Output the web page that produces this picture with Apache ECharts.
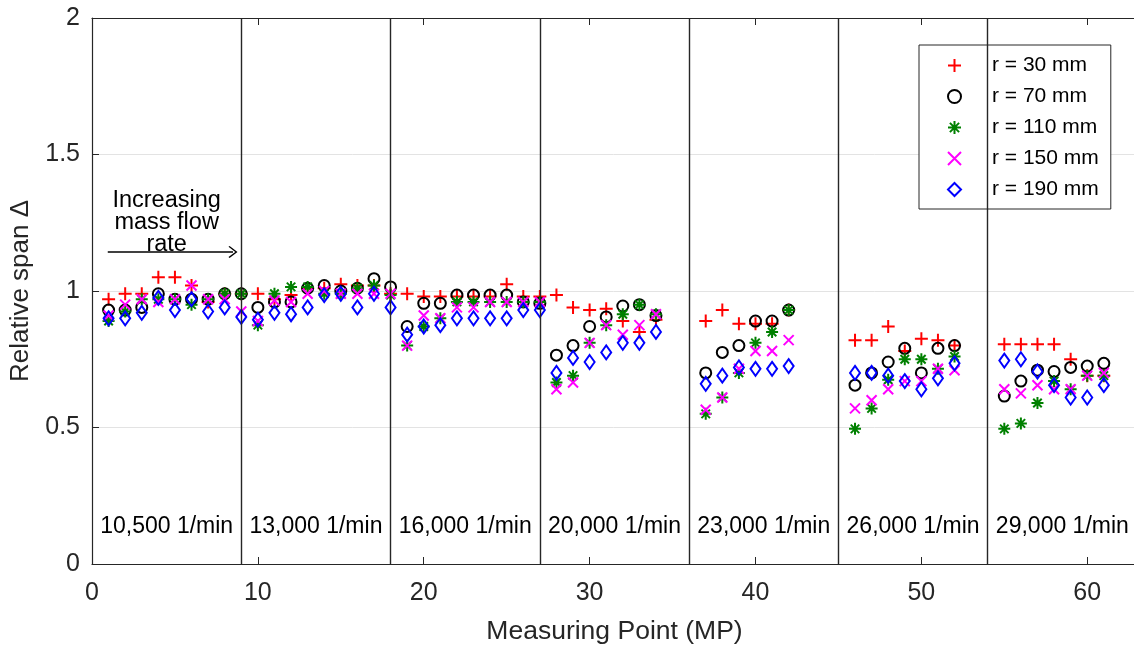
<!DOCTYPE html>
<html>
<head>
<meta charset="utf-8">
<title>Relative span</title>
<script src="https://cdn.jsdelivr.net/npm/echarts@6/dist/echarts.min.js"></script>
<style>
    html, body { margin: 0; padding: 0; background: #fff; }
    #chart { width: 1134px; height: 645px; }
</style>
</head>
<body>
<div id="chart"></div>
<script>
// measuring points (MP)
var mp = [1, 2, 3, 4, 5, 6, 7, 8, 9,
    10, 11, 12, 13, 14, 15, 16, 17, 18,
    19, 20, 21, 22, 23, 24, 25, 26, 27,
    28, 29, 30, 31, 32, 33, 34,
    37, 38, 39, 40, 41, 42,
    46, 47, 48, 49, 50, 51, 52,
    55, 56, 57, 58, 59, 60, 61];

var r30 = [0.97, 0.99, 0.99, 1.05, 1.05, 1.02, 0.96, 0.99, 0.99,
    0.99, 0.97, 0.985, 1.01, 1.01, 1.025, 1.02, 1.02, 0.99,
    0.99, 0.98, 0.98, 0.98, 0.98, 0.98, 1.025, 0.98, 0.98,
    0.985, 0.94, 0.93, 0.935, 0.89, 0.85, 0.895,
    0.89, 0.93, 0.88, 0.88, 0.88, 0.93,
    0.82, 0.82, 0.87, 0.78, 0.825, 0.82, 0.80,
    0.805, 0.805, 0.805, 0.805, 0.75, 0.69, 0.69];

var r70 = [0.93, 0.93, 0.94, 0.99, 0.97, 0.97, 0.97, 0.99, 0.99,
    0.94, 0.96, 0.96, 1.01, 1.02, 1.0, 1.01, 1.045, 1.015,
    0.87, 0.955, 0.955, 0.985, 0.985, 0.985, 0.985, 0.96, 0.955,
    0.765, 0.80, 0.87, 0.905, 0.945, 0.95, 0.91,
    0.70, 0.775, 0.80, 0.89, 0.89, 0.93,
    0.655, 0.70, 0.74, 0.79, 0.70, 0.79, 0.80,
    0.615, 0.67, 0.71, 0.705, 0.72, 0.725, 0.735];

var r110 = [0.89, 0.925, 0.97, 0.97, 0.97, 0.95, 0.97, 0.99, 0.99,
    0.875, 0.99, 1.015, 1.015, 0.99, 0.99, 1.01, 1.02, 0.985,
    0.80, 0.87, 0.90, 0.96, 0.96, 0.96, 0.96, 0.96, 0.96,
    0.665, 0.69, 0.81, 0.875, 0.915, 0.95, 0.915,
    0.55, 0.61, 0.70, 0.81, 0.85, 0.93,
    0.495, 0.57, 0.675, 0.75, 0.75, 0.715, 0.76,
    0.495, 0.515, 0.59, 0.67, 0.64, 0.69, 0.69];

var r150 = [0.91, 0.95, 0.97, 0.96, 0.97, 1.02, 0.97, 0.97, 0.925,
    0.89, 0.965, 0.96, 0.99, 1.0, 0.99, 0.99, 0.99, 0.99,
    0.80, 0.91, 0.90, 0.94, 0.94, 0.96, 0.96, 0.96, 0.96,
    0.64, 0.665, 0.81, 0.875, 0.84, 0.875, 0.915,
    0.565, 0.61, 0.715, 0.78, 0.78, 0.82,
    0.57, 0.60, 0.64, 0.67, 0.67, 0.715, 0.71,
    0.64, 0.625, 0.655, 0.64, 0.64, 0.69, 0.70];

var r190 = [0.90, 0.90, 0.92, 0.975, 0.93, 0.97, 0.925, 0.94, 0.905,
    0.895, 0.92, 0.915, 0.94, 0.985, 0.99, 0.94, 0.99, 0.94,
    0.84, 0.87, 0.875, 0.90, 0.90, 0.90, 0.90, 0.93, 0.93,
    0.70, 0.755, 0.74, 0.775, 0.81, 0.81, 0.85,
    0.66, 0.69, 0.72, 0.715, 0.715, 0.725,
    0.70, 0.70, 0.69, 0.67, 0.64, 0.68, 0.735,
    0.745, 0.75, 0.705, 0.655, 0.61, 0.61, 0.655];

var seriesNames = ['r = 30 mm', 'r = 70 mm', 'r = 110 mm', 'r = 150 mm', 'r = 190 mm'];

// speed blocks
var boundaries = [9, 18, 27, 36, 45, 54];
var speedLabels = ['10,500 1/min', '13,000 1/min', '16,000 1/min', '20,000 1/min',
    '23,000 1/min', '26,000 1/min', '29,000 1/min'];
var speedLabelX = [4.5, 13.5, 22.5, 31.5, 40.5, 49.5, 58.5];
var speedLabelY = 0.135;

var yTicks = [0, 0.5, 1, 1.5, 2];

var FONT = 'Liberation Sans';
var AXIS_COLOR = '#262626';

// marker shapes (matlab style)
var PLUS = 'path://M0,-10L0,10M-10,0L10,0';
var CROSS = 'path://M-10,-10L10,10M-10,10L10,-10';
var STAR = 'path://M0,-10L0,10M-10,0L10,0M-7.07,-7.07L7.07,7.07M-7.07,7.07L7.07,-7.07';
var CHEVRON = 'path://M0,0L10,10L8.6,11.4L0,2.8L-8.6,11.4L-10,10Z';

function zip(xs, ys){
    var out = [];
    for(var i = 0; i < xs.length; i++){
        out.push([xs[i], ys[i]]);
    }
    return out;
}

function markerSeries(name, values, symbol, size, color){
    return {
        name: name,
        type: 'scatter',
        data: zip(mp, values),
        symbol: symbol,
        symbolSize: size,
        symbolKeepAspect: true,
        itemStyle: {
            color: 'transparent',
            borderColor: color,
            borderWidth: 2,
            opacity: 1
        },
        emphasis: { disabled: true },
        z: 3
    };
}

var chart = echarts.init(document.getElementById('chart'));

var option = {
    animation: false,
    textStyle: { fontFamily: FONT },
    grid: { left: 92, right: -3, top: 18, bottom: 81, containLabel: false, outerBoundsMode: 'none' },
    legend: {
        orient: 'vertical',
        left: 919,
        top: 45,
        data: seriesNames,
        itemWidth: 13,
        itemHeight: 13,
        itemGap: 10,
        padding: [10, 12, 9, 28],
        backgroundColor: '#fff',
        borderColor: AXIS_COLOR,
        borderWidth: 1,
        borderRadius: 0,
        selectedMode: false,
        itemStyle: { borderWidth: 2, opacity: 1 },
        textStyle: {
            fontFamily: FONT,
            fontSize: 21,
            lineHeight: 20,
            color: '#000',
            padding: [0, 0, 0, 26]
        }
    },
    xAxis: [{
        type: 'value',
        min: 0,
        max: 63,
        interval: 10,
        name: 'Measuring Point (MP)',
        nameLocation: 'middle',
        nameGap: 54,
        nameTextStyle: { fontFamily: FONT, fontSize: 26.5, color: AXIS_COLOR },
        axisLine: { lineStyle: { color: AXIS_COLOR, width: 1.2 } },
        axisTick: { inside: true, length: 7, lineStyle: { color: AXIS_COLOR } },
        axisLabel: { fontFamily: FONT, fontSize: 25, color: AXIS_COLOR, margin: 17, showMaxLabel: false },
        splitLine: { show: false }
    }, {
        type: 'value',
        position: 'top',
        min: 0,
        max: 63,
        interval: 10,
        axisLine: { show: true, lineStyle: { color: AXIS_COLOR, width: 1.2 } },
        axisTick: { show: true, inside: true, length: 7, lineStyle: { color: AXIS_COLOR } },
        axisLabel: { show: false },
        splitLine: { show: false }
    }],
    yAxis: {
        type: 'value',
        min: yTicks[0],
        max: yTicks[yTicks.length - 1],
        interval: 0.5,
        name: 'Relative span \u0394',
        nameLocation: 'middle',
        nameGap: 58,
        nameTextStyle: { fontFamily: FONT, fontSize: 26, color: AXIS_COLOR },
        axisLine: { show: true, lineStyle: { color: AXIS_COLOR, width: 1.2 } },
        axisTick: { show: true, inside: true, length: 7, lineStyle: { color: AXIS_COLOR } },
        axisLabel: {
            fontFamily: FONT, fontSize: 25, color: AXIS_COLOR, margin: 12,
            formatter: function(v){ return String(v); }
        },
        splitLine: { show: true, lineStyle: { color: '#e3e3e3', width: 1 } }
    },
    series: [
        {
            // separators, speed labels and annotation
            type: 'scatter',
            data: [],
            silent: true,
            markLine: {
                silent: true,
                symbol: ['none', 'none'],
                label: { show: false },
                lineStyle: { color: AXIS_COLOR, type: 'solid', width: 1.4 },
                emphasis: { disabled: true },
                data: boundaries.map(function(b){ return { xAxis: b }; })
            },
            markPoint: {
                silent: true,
                symbol: 'circle',
                symbolSize: 1,
                itemStyle: { color: 'transparent' },
                label: {
                    show: true,
                    position: 'inside',
                    fontFamily: FONT,
                    fontSize: 23,
                    color: '#000'
                },
                data: speedLabels.map(function(t, i){
                    return { coord: [speedLabelX[i], speedLabelY], value: t, label: { formatter: t } };
                }).concat([{
                    coord: [4.5, 1.252],
                    value: 'note',
                    label: {
                        formatter: 'Increasing\nmass flow\nrate',
                        fontSize: 23.5,
                        lineHeight: 22,
                        align: 'center'
                    }
                }])
            }
        },
        {
            type: 'line',
            data: [],
            silent: true,
            markLine: {
                silent: true,
                symbol: ['none', CHEVRON],
                symbolSize: [12, 9],
                label: { show: false },
                lineStyle: { color: '#000', type: 'solid', width: 1.5 },
                emphasis: { disabled: true },
                data: [[{ coord: [0.95, 1.143] }, { coord: [8.5, 1.143] }]]
            }
        },
        markerSeries(seriesNames[0], r30, PLUS, 13, '#ff0000'),
        markerSeries(seriesNames[1], r70, 'circle', 11, '#000000'),
        markerSeries(seriesNames[2], r110, STAR, 12, '#008000'),
        markerSeries(seriesNames[3], r150, CROSS, 10, '#ff00ff'),
        markerSeries(seriesNames[4], r190, 'diamond', [10, 14], '#0000ff')
    ]
};

chart.setOption(option);
</script>
</body>
</html>
